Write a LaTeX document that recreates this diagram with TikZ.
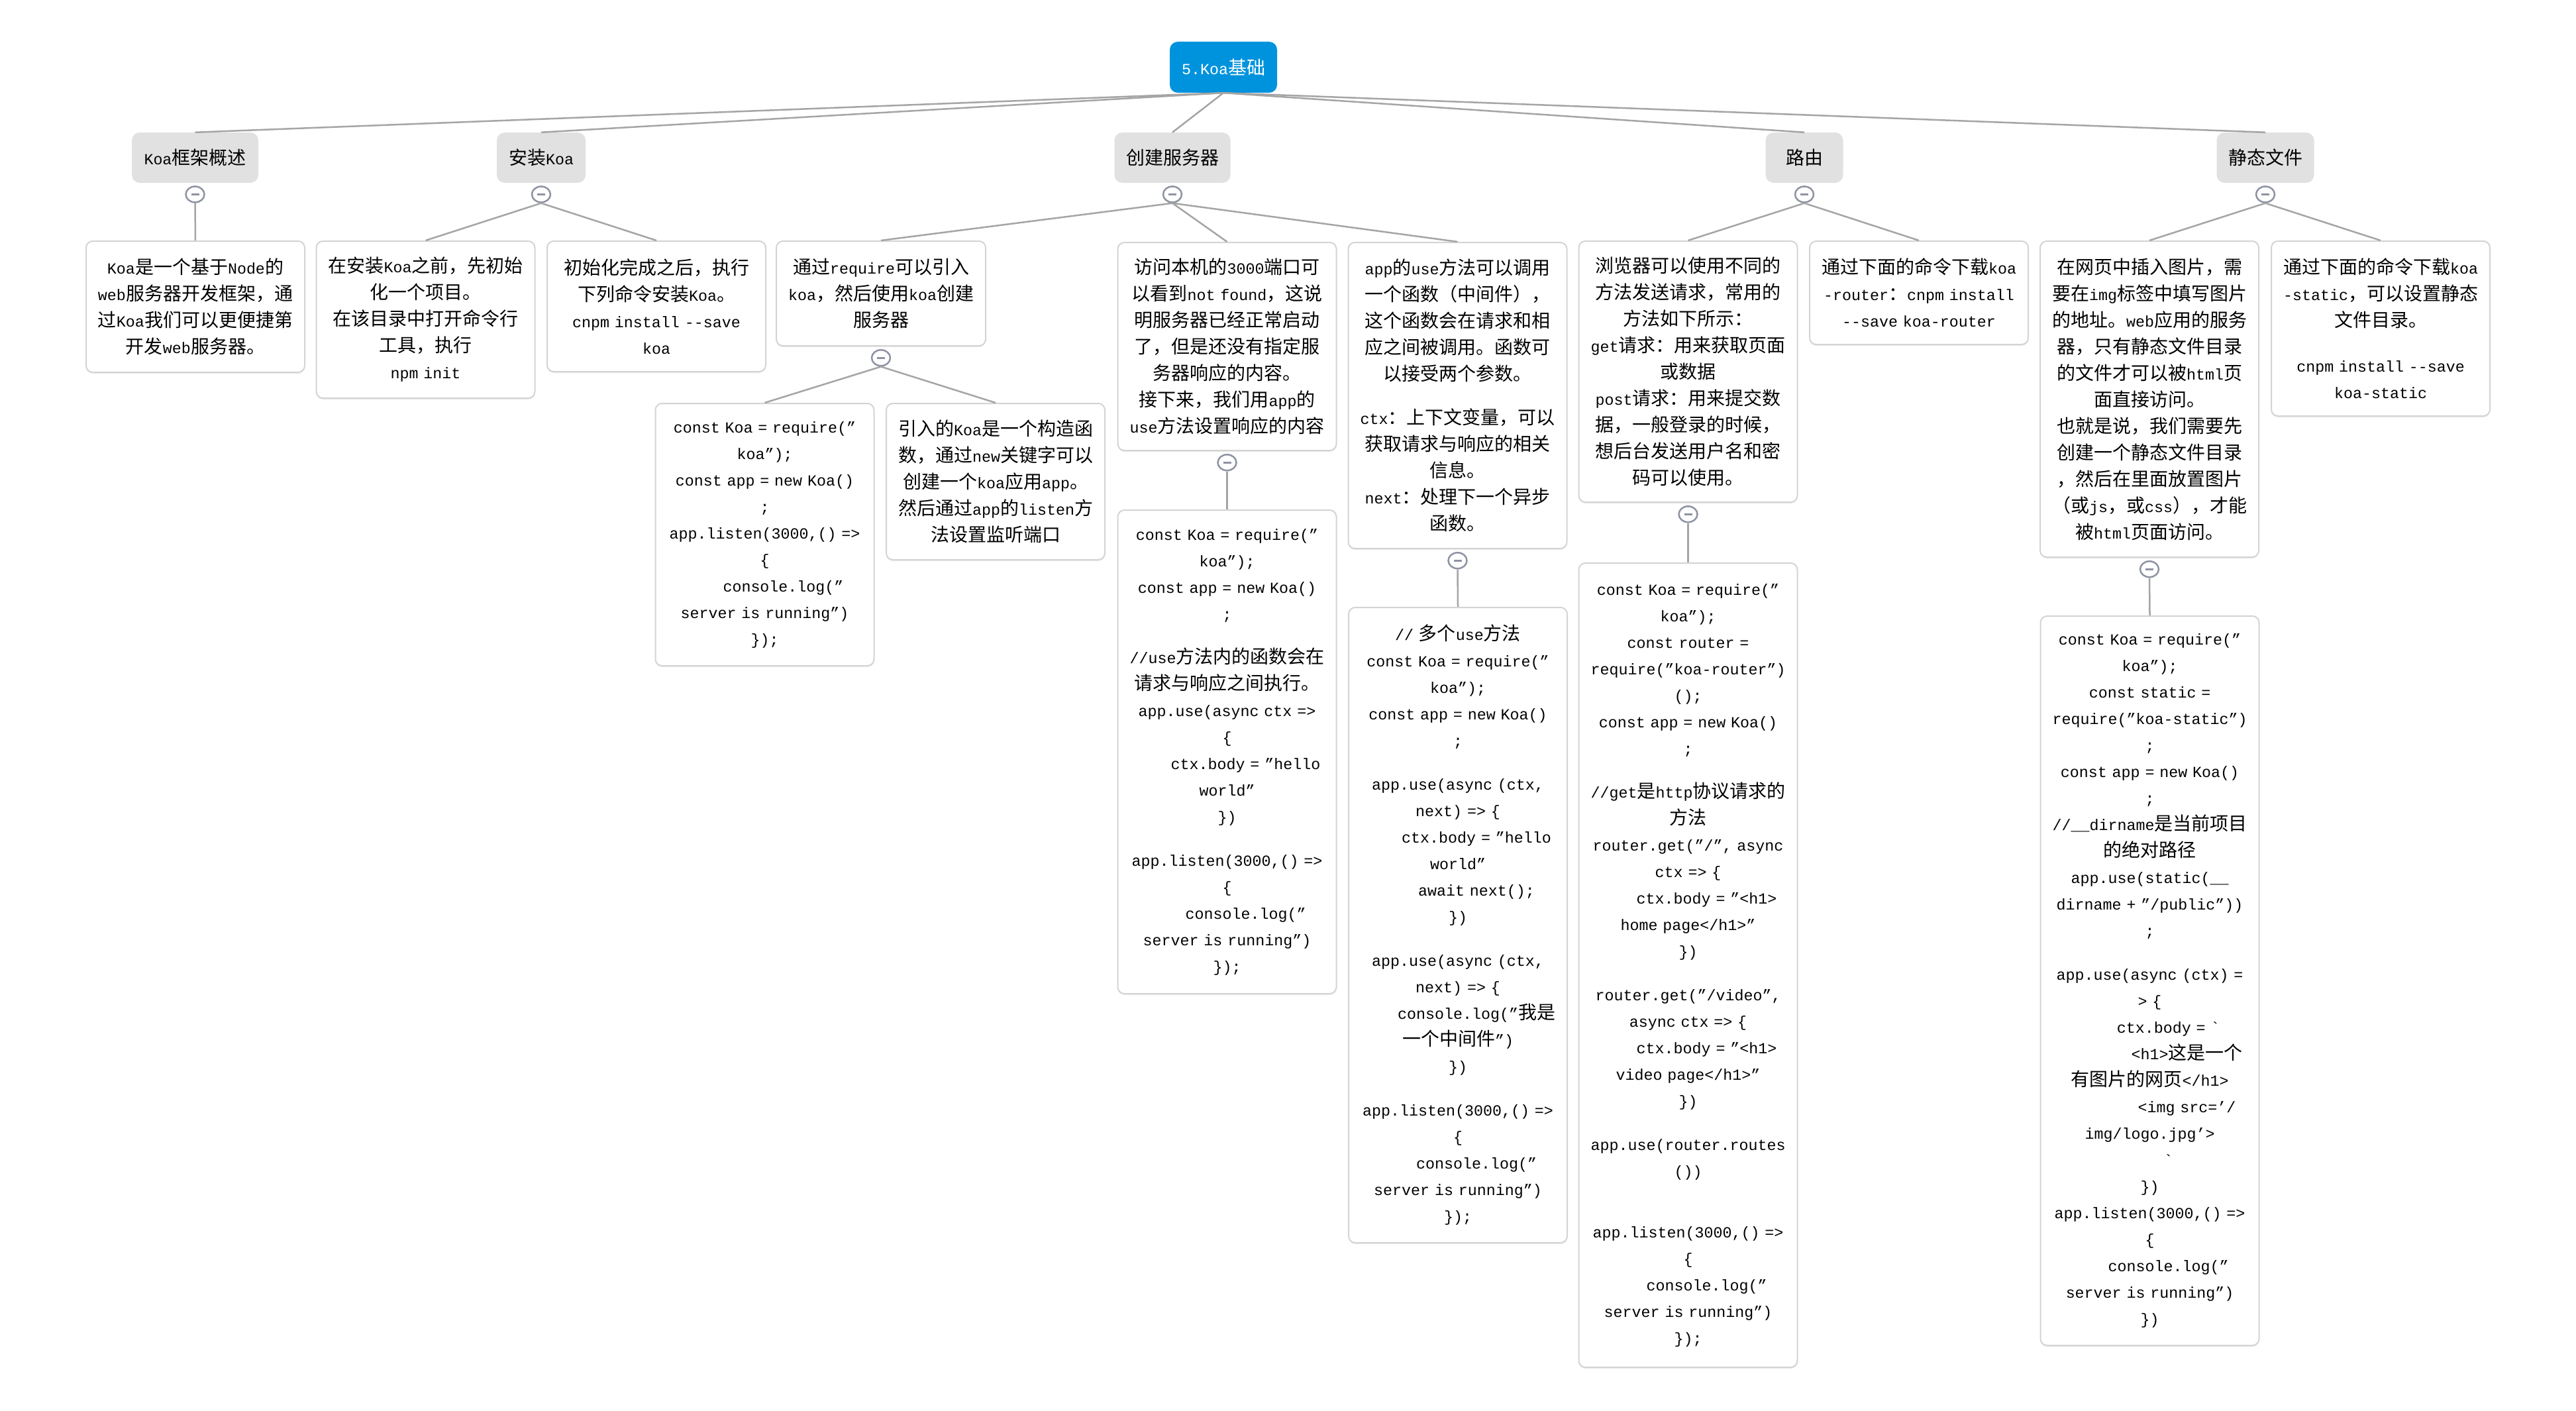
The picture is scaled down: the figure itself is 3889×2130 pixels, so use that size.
\documentclass[tikz,border=0pt]{standalone}
\usepackage{fontspec}
\usetikzlibrary{positioning,shapes.geometric,shadows}

\newfontfamily\codefont{Liberation Mono}[Scale=0.8333,Ligatures=TeXOff]
\newfontfamily\cjkfont{Noto Sans CJK SC}

% Chinese characters switch to the CJK family
\XeTeXinterchartokenstate=1
\newXeTeXintercharclass\cjkclass
\newcount\cjkcnt
\newcommand{\setcjkrange}[3]{\cjkcnt=#1\relax
  \loop\XeTeXcharclass\cjkcnt=#3\relax
  \ifnum\cjkcnt<#2\advance\cjkcnt by 1\repeat}
\setcjkrange{"4E00}{"9FFF}{\cjkclass}
\setcjkrange{"3000}{"303F}{\cjkclass}
\setcjkrange{"FF00}{"FFEF}{\cjkclass}
\setcjkrange{"2018}{"201F}{0}
\XeTeXinterchartoks 0 \cjkclass = {\begingroup\cjkfont}
\XeTeXinterchartoks 4095 \cjkclass = {\begingroup\cjkfont}
\XeTeXinterchartoks \cjkclass 0 = {\endgroup}
\XeTeXinterchartoks \cjkclass 4095 = {\endgroup}

\definecolor{rootblue}{HTML}{0093DD}
\definecolor{topicgray}{HTML}{E1E1E1}
\definecolor{linkgray}{HTML}{A5A5A5}
\definecolor{foldgray}{HTML}{8E93A3}
\definecolor{leafline}{HTML}{D4D4D4}

\tikzset{
  every node/.style={font=\codefont\fontsize{28}{40}\selectfont},
  rootbox/.style={rectangle, rounded corners=12, fill=rootblue, text=white,
    minimum width=162, minimum height=77, inner sep=0},
  topicbox/.style={rectangle, rounded corners=12, fill=topicgray,
    minimum height=76, inner sep=0},
  leafbox/.style={rectangle, rounded corners=10, draw=leafline, line width=2,
    fill=white, text width=310, inner xsep=10, align=center, anchor=north,
    drop shadow={shadow xshift=0pt, shadow yshift=-2pt, fill=black!15}},
  foldmark/.style={ellipse, draw=foldgray, line width=2.5, fill=white,
    minimum width=28, minimum height=24, inner sep=0,
    path picture={\draw[foldgray, line width=2.5]
      ([xshift=-6pt]path picture bounding box.center) --
      ([xshift=6pt]path picture bounding box.center);}},
  branch/.style={draw=linkgray, line width=2.5}
}
\newcommand{\codeind}[1][4]{\hspace*{#1\dimexpr14pt\relax}}

\begin{document}
\begin{tikzpicture}[x=1pt,y=-1pt]
  \fill[white] (0,0) rectangle (3889,2130);
  \useasboundingbox (0,0) rectangle (3889,2130);

  \node[rootbox] (koa) at (1847,101.5) {5.Koa基础};

  \node[topicbox, minimum width=191] (intro) at (294.5,238) {Koa框架概述};
  \node[topicbox, minimum width=134] (install) at (817,238) {安装Koa};
  \node[topicbox, minimum width=175] (server) at (1770,238) {创建服务器};
  \node[topicbox, minimum width=117] (router) at (2724,238) {路由};
  \node[topicbox, minimum width=147] (static) at (3420,238) {静态文件};

  \foreach \t in {intro,install,server,router,static} {
    \draw[branch] (koa.south) -- (\t.north);
    \node[foldmark, below=4pt of \t] (\t fold) {};
  }

  % second level
  \node[leafbox, minimum height=198] (introtext) at (295,363)
    {Koa是一个基于Node的\\web服务器开发框架，通\\过Koa我们可以更便捷第\\开发web服务器。};
  \node[leafbox, minimum height=237] (installA) at (642.5,363)
    {在安装Koa之前，先初始\\化一个项目。\\在该目录中打开命令行\\工具，执行\\npm init};
  \node[leafbox, minimum height=197] (installB) at (991,363)
    {初始化完成之后，执行\\下列命令安装Koa。\\cnpm install --save\\koa};
  \node[leafbox, text width=296, minimum height=158] (serverA) at (1330,363)
    {通过require可以引入\\koa，然后使用koa创建\\服务器};
  \node[leafbox, minimum height=314] (serverB) at (1852.5,365)
    {访问本机的3000端口可\\以看到not found，这说\\明服务器已经正常启动\\了，但是还没有指定服\\务器响应的内容。\\接下来，我们用app的\\use方法设置响应的内容};
  \node[leafbox, minimum height=462] (serverC) at (2200.5,365)
    {app的use方法可以调用\\一个函数（中间件），\\这个函数会在请求和相\\应之间被调用。函数可\\以接受两个参数。\\[26pt]ctx：上下文变量，可以\\获取请求与响应的相关\\信息。\\next：处理下一个异步\\函数。};
  \node[leafbox, minimum height=394] (routerA) at (2548.5,363)
    {浏览器可以使用不同的\\方法发送请求，常用的\\方法如下所示：\\get请求：用来获取页面\\或数据\\post请求：用来提交数\\据，一般登录的时候，\\想后台发送用户名和密\\码可以使用。};
  \node[leafbox, minimum height=156] (routerB) at (2897,363)
    {通过下面的命令下载koa\\-router：cnpm install\\--save koa-router};
  \node[leafbox, minimum height=477] (staticA) at (3245,363)
    {在网页中插入图片，需\\要在img标签中填写图片\\的地址。web应用的服务\\器，只有静态文件目录\\的文件才可以被html页\\面直接访问。\\也就是说，我们需要先\\创建一个静态文件目录\\，然后在里面放置图片\\（或js，或css），才能\\被html页面访问。};
  \node[leafbox, minimum height=264] (staticB) at (3594,363)
    {通过下面的命令下载koa\\-static，可以设置静态\\文件目录。\\[28pt]cnpm install --save\\koa-static};

  \draw[branch] (introfold.south) -- (introtext.north);
  \draw[branch] (installfold.south) -- (installA.north);
  \draw[branch] (installfold.south) -- (installB.north);
  \draw[branch] (serverfold.south) -- (serverA.north);
  \draw[branch] (serverfold.south) -- (serverB.north);
  \draw[branch] (serverfold.south) -- (serverC.north);
  \draw[branch] (routerfold.south) -- (routerA.north);
  \draw[branch] (routerfold.south) -- (routerB.north);
  \draw[branch] (staticfold.south) -- (staticA.north);
  \draw[branch] (staticfold.south) -- (staticB.north);

  \foreach \t in {serverA,serverB,serverC,routerA,staticA}
    \node[foldmark, below=4pt of \t] (\t fold) {};

  % third level
  \node[leafbox, minimum height=396] (codeA) at (1154.5,608)
    {const Koa = require(”\\koa”);\\const app = new Koa()\\;\\app.listen(3000,() =>\\\{\\\codeind console.log(”\\server is running”)\\\});};
  \node[leafbox, minimum height=236] (noteA) at (1503,608)
    {引入的Koa是一个构造函\\数，通过new关键字可以\\创建一个koa应用app。\\然后通过app的listen方\\法设置监听端口};
  \node[leafbox, minimum height=730] (codeB) at (1852.5,769)
    {const Koa = require(”\\koa”);\\const app = new Koa()\\;\\[26pt]//use方法内的函数会在\\请求与响应之间执行。\\app.use(async ctx =>\\\{\\\codeind ctx.body = ”hello\\world”\\\})\\[26pt]app.listen(3000,() =>\\\{\\\codeind console.log(”\\server is running”)\\\});};
  \node[leafbox, minimum height=959] (codeC) at (2201,916)
    {// 多个use方法\\const Koa = require(”\\koa”);\\const app = new Koa()\\;\\[26pt]app.use(async (ctx,\\next) => \{\\\codeind ctx.body = ”hello\\world”\\\codeind await next();\\\})\\[26pt]app.use(async (ctx,\\next) => \{\\\codeind console.log(”我是\\一个中间件”)\\\})\\[26pt]app.listen(3000,() =>\\\{\\\codeind console.log(”\\server is running”)\\\});};
  \node[leafbox, minimum height=1214] (codeD) at (2548.5,849)
    {const Koa = require(”\\koa”);\\const router =\\require(”koa-router”)\\();\\const app = new Koa()\\;\\[26pt]//get是http协议请求的\\方法\\router.get(”/”, async\\ctx => \{\\\codeind ctx.body = ”<h1>\\home page</h1>”\\\})\\[26pt]router.get(”/video”,\\async ctx => \{\\\codeind ctx.body = ”<h1>\\video page</h1>”\\\})\\[26pt]app.use(router.routes\\())\\[52pt]app.listen(3000,() =>\\\{\\\codeind console.log(”\\server is running”)\\\});};
  \node[leafbox, minimum height=1101] (codeE) at (3245.5,929)
    {const Koa = require(”\\koa”);\\const static =\\require(”koa-static”)\\;\\const app = new Koa()\\;\\//\_\_dirname是当前项目\\的绝对路径\\app.use(static(\_\_\\dirname + ”/public”))\\;\\[26pt]app.use(async (ctx) =\\> \{\\\codeind ctx.body = `\\\codeind[8]<h1>这是一个\\有图片的网页</h1>\\\codeind[8]<img src=’/\\img/logo.jpg’>\\\codeind`\\\})\\app.listen(3000,() =>\\\{\\\codeind console.log(”\\server is running”)\\\})};

  \draw[branch] (serverAfold.south) -- (codeA.north);
  \draw[branch] (serverAfold.south) -- (noteA.north);
  \draw[branch] (serverBfold.south) -- (codeB.north);
  \draw[branch] (serverCfold.south) -- (codeC.north);
  \draw[branch] (routerAfold.south) -- (codeD.north);
  \draw[branch] (staticAfold.south) -- (codeE.north);
\end{tikzpicture}
\end{document}
